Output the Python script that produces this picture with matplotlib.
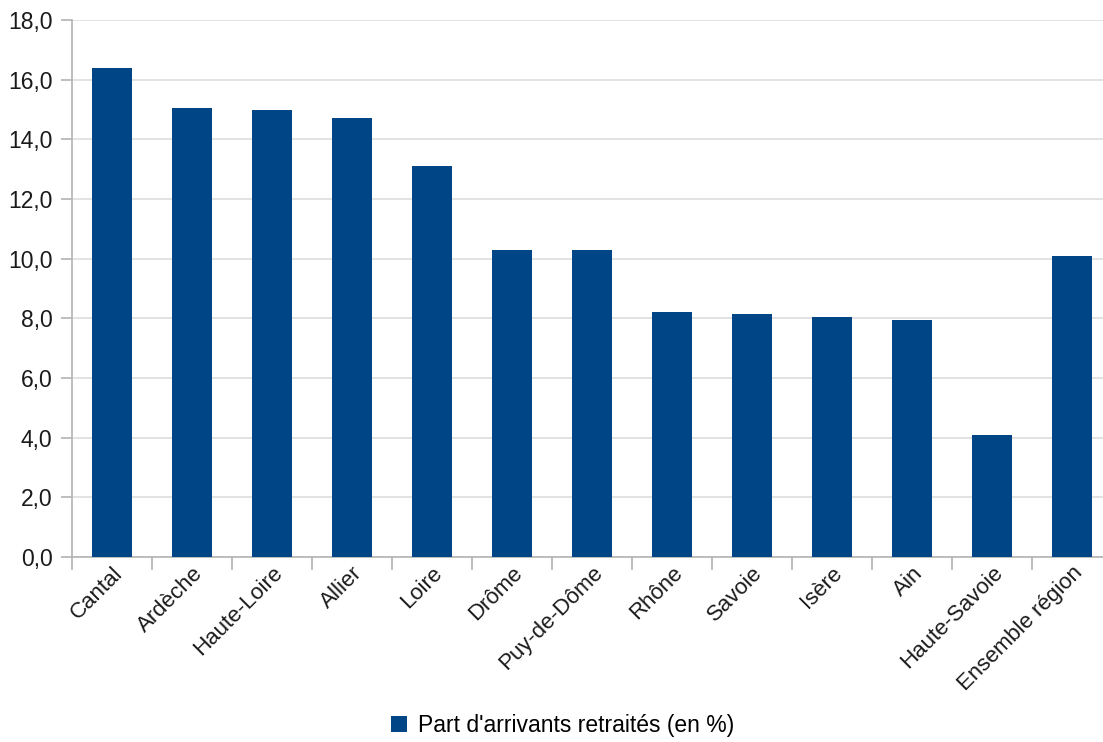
import matplotlib
matplotlib.use("Agg")
import matplotlib.pyplot as plt
from matplotlib.ticker import FuncFormatter, FixedLocator

# Données
departements = ["Cantal", "Ardèche", "Haute-Loire", "Allier", "Loire", "Drôme",
                "Puy-de-Dôme", "Rhône", "Savoie", "Isère", "Ain", "Haute-Savoie",
                "Ensemble région"]
part_retraites = [16.4, 15.05, 15.0, 14.7, 13.1, 10.3, 10.3, 8.2, 8.15, 8.05, 7.95, 4.1, 10.1]
serie_label = "Part d'arrivants retraités (en %)"

plt.rcParams['font.family'] = ['Liberation Sans', 'DejaVu Sans']

fig = plt.figure(figsize=(11.03, 7.42), dpi=100)
ax = fig.add_axes([72 / 1103, 185 / 742, 1040 / 1103, 537 / 742])

x = range(len(departements))
ax.bar(x, part_retraites, width=0.5, color="#004586", label=serie_label, zorder=3)

ax.set_xlim(-0.5, len(departements) - 0.5)
ax.set_ylim(0, 18)
ax.set_yticks([i * 2 for i in range(10)])
ax.yaxis.set_major_formatter(FuncFormatter(lambda v, p: f"{v:.1f}".replace(".", ",")))
ax.yaxis.grid(True, color="#dedede", linewidth=1.2, zorder=0)

# ticks entre les catégories, libellés centrés sous les barres
ax.xaxis.set_major_locator(FixedLocator([i - 0.5 for i in range(len(departements) + 1)]))
ax.xaxis.set_minor_locator(FixedLocator(list(x)))
ax.tick_params(axis="x", which="major", length=9, color="#b3b3b3", width=1.2, labelbottom=False)
ax.tick_params(axis="x", which="minor", length=0, pad=4)
ax.set_xticks(list(x), departements, minor=True, rotation=45, ha="right",
              rotation_mode="anchor", fontsize=16, color="#1a1a1a")
ax.tick_params(axis="y", length=8, color="#b3b3b3", width=1.2, labelsize=16.5,
               labelcolor="#1a1a1a", pad=6)

for s in ["top", "right"]:
    ax.spines[s].set_visible(False)
for s in ["left", "bottom"]:
    ax.spines[s].set_color("#b3b3b3")
    ax.spines[s].set_linewidth(1.2)

fig.legend(loc="center", bbox_to_anchor=(0.51, 0.022), frameon=False, fontsize=16.5,
           handlelength=0.7, handleheight=0.7, handletextpad=0.5)

fig.savefig("out.png", dpi=100)
